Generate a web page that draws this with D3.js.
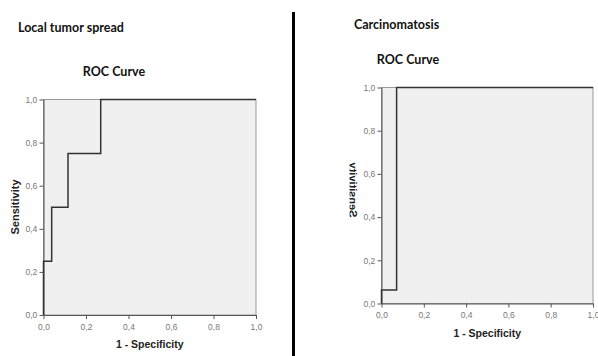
<!DOCTYPE html>
<html><head><meta charset="utf-8">
<script src="https://cdn.jsdelivr.net/npm/d3@7"></script>
<style>body{margin:0;background:#fff}svg{display:block}</style>
</head><body>
<svg id="c" width="598" height="356"></svg>
<script>
// data
const panelTitles = ["Local tumor spread", "Carcinomatosis"];
const chartTitle = "ROC Curve";
const xLabel = "1 - Specificity";
const yLabel = "Sensitivity";
const tickValues = [0, 0.2, 0.4, 0.6, 0.8, 1.0];
const localFPR = [0, 0, 1/26, 1/26, 3/26, 3/26, 7/26, 7/26, 1];
const localTPR = [0, 0.25, 0.25, 0.5, 0.5, 0.75, 0.75, 1, 1];
const carcFPR = [0, 0, 1/14, 1/14, 1];
const carcTPR = [0, 0.0625, 0.0625, 1, 1];

const svg = d3.select("#c");
const fmt = d => d3.format(".1f")(d).replace(".", ",");

svg.append("defs").append("clipPath").attr("id", "ylclip")
  .append("rect").attr("x", 349.5).attr("y", 0).attr("width", 30).attr("height", 356);

function panel(cfg) {
  const x = d3.scaleLinear().domain([0,1]).range([cfg.x0, cfg.x1]);
  const y = d3.scaleLinear().domain([0,1]).range([cfg.y0, cfg.y1]);
  const g = svg.append("g");
  g.append("rect").attr("x", x(0)).attr("y", y(1)).attr("width", x(1)-x(0)).attr("height", y(0)-y(1))
    .attr("fill", "#f0f0f0").attr("stroke", "#9a9a9a").attr("stroke-width", 1);
  const ax = g.append("g").attr("transform", `translate(0,${y(0)})`)
    .call(d3.axisBottom(x).tickValues(tickValues).tickFormat(fmt).tickSize(4).tickSizeOuter(0));
  const ay = g.append("g").attr("transform", `translate(${x(0)},0)`)
    .call(d3.axisLeft(y).tickValues(tickValues).tickFormat(fmt).tickSize(4).tickSizeOuter(0));
  [ax, ay].forEach(a => {
    a.select(".domain").attr("stroke", "#555");
    a.selectAll(".tick line").attr("stroke", "#555");
    a.selectAll(".tick text").attr("fill", "#777").attr("font-family", "Liberation Sans, Arial, sans-serif").attr("font-size", 8.5);
  });
  ax.selectAll(".tick text").attr("dy", "0.9em");
  ay.selectAll(".tick text").attr("dx", "0.1em");
  const pts = cfg.fpr.map((f, i) => [f, cfg.tpr[i]]);
  g.append("path").datum(pts)
    .attr("d", d3.line().x(d => x(d[0])).y(d => y(d[1])))
    .attr("fill", "none").attr("stroke", "#333").attr("stroke-width", 1.5);
  g.append("text").attr("x", cfg.ptX).attr("y", cfg.ptY).text(cfg.panelTitle)
    .attr("font-family", "Lato, Open Sans, sans-serif").attr("font-weight", "bold").attr("font-size", 12.5).attr("fill", "#111");
  g.append("text").attr("x", cfg.ctX).attr("y", cfg.ctY).attr("text-anchor", "middle").text(chartTitle)
    .attr("font-family", "Lato, Open Sans, sans-serif").attr("font-weight", "bold").attr("font-size", 12.5).attr("fill", "#111");
  g.append("text").attr("x", (x(0)+x(1))/2).attr("y", cfg.xlY).attr("text-anchor", "middle").text(xLabel)
    .attr("font-family", "Liberation Sans, Arial, sans-serif").attr("font-weight", "bold").attr("font-size", 10.5).attr("fill", "#222");
  const yl = g.append("text").attr("text-anchor", "middle").text(yLabel)
    .attr("font-family", "Liberation Sans, Arial, sans-serif").attr("font-weight", "bold").attr("font-size", 11).attr("fill", "#222");
  if (cfg.mirror) {
    yl.attr("transform", `translate(${cfg.ylX},${cfg.ylY}) rotate(-90) scale(1,-1)`);
    g.append("g").attr("clip-path", "url(#ylclip)").node().appendChild(yl.node());
  } else {
    yl.attr("transform", `translate(${cfg.ylX},${cfg.ylY}) rotate(-90)`);
  }
}

panel({x0:43.5, x1:256, y0:315, y1:99.5, fpr:localFPR, tpr:localTPR,
  panelTitle: panelTitles[0], ptX:18, ptY:32, ctX:114, ctY:76, xlY:348, ylX:19, ylY:207, mirror:false});
panel({x0:381.5, x1:593, y0:303.5, y1:87.5, fpr:carcFPR, tpr:carcTPR,
  panelTitle: panelTitles[1], ptX:354, ptY:29, ctX:408, ctY:64, xlY:337, ylX:349, ylY:190, mirror:true});

svg.append("line").attr("x1", 293.5).attr("x2", 293.5).attr("y1", 12).attr("y2", 356)
  .attr("stroke", "#000").attr("stroke-width", 3);
</script>
</body></html>
